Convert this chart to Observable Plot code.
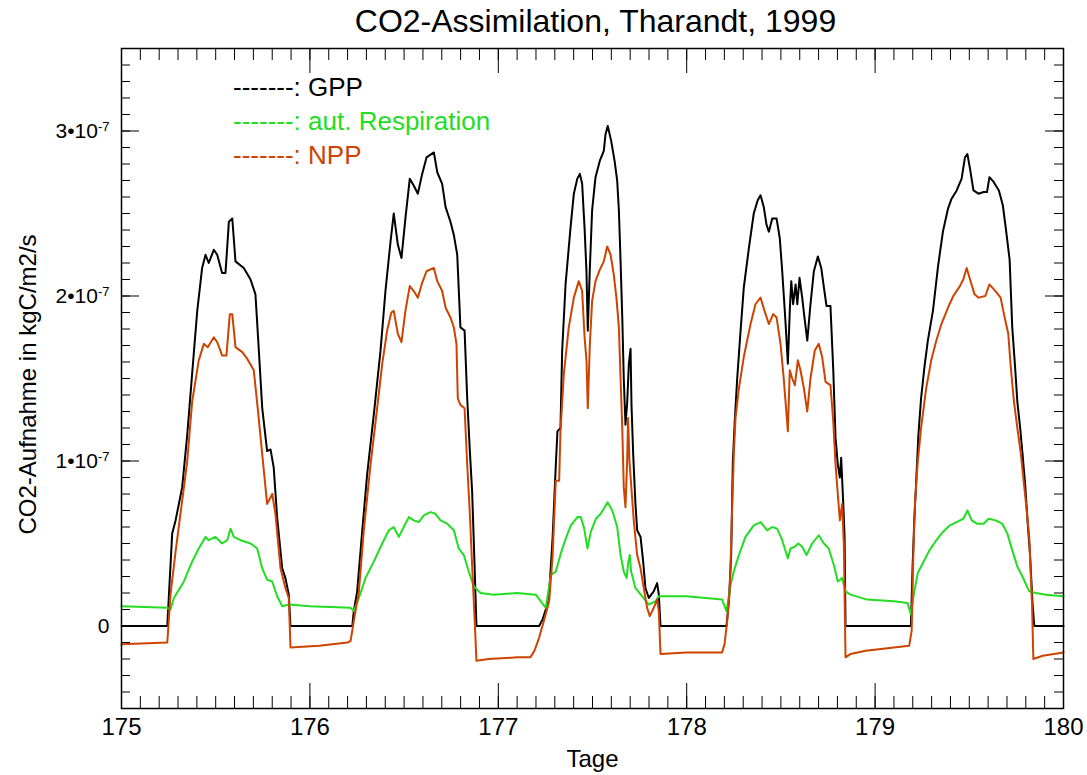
<!DOCTYPE html>
<html>
<head>
<meta charset="utf-8">
<script src="https://cdn.jsdelivr.net/npm/d3@7"></script>
<script src="https://cdn.jsdelivr.net/npm/@observablehq/plot@0.6"></script>
<style>
html, body { margin: 0; padding: 0; background: #fff; }
#chart { position: relative; width: 1087px; height: 775px; font-family: "Liberation Sans", Arial, Helvetica, sans-serif; }
#title { position: absolute; left: 104px; top: 0; width: 983px; height: 42px; line-height: 42px; text-align: center; font-size: 32px; color: #000; }
#plot { position: absolute; left: 0; top: 40px; }
#legend { position: absolute; left: 233px; top: 70px; font-size: 26px; line-height: 34px; white-space: pre; }
</style>
</head>
<body>
<div id="chart">
  <div id="title"></div>
  <div id="plot"></div>
  <div id="legend"></div>
</div>
<script>
// ---- texts ----
const titleText = "CO2-Assimilation, Tharandt, 1999";
const xLabel = "Tage";
const yLabel = "CO2-Aufnahme in kgC/m2/s";
const seriesNames = ["GPP", "aut. Respiration", "NPP"];
const seriesColors = ["#000000", "#22dd22", "#cc4400"];

// ---- ticks ----
const xTicks = [175, 176, 177, 178, 179, 180];
const yTicks = [0, 1e-7, 2e-7, 3e-7];
const yTickLabels = ["0", "1•10^-7", "2•10^-7", "3•10^-7"];

// values below are in units of 1e-7 kgC/m2/s
const unit = 1e-7;

// ---- GPP ----
const gppT = [
  175.000, 175.243, 175.269, 175.287, 175.322, 175.349, 175.375, 175.402, 175.428, 175.446,
  175.463, 175.490, 175.508, 175.534, 175.552, 175.570, 175.588, 175.605, 175.649, 175.685,
  175.711, 175.729, 175.747, 175.773, 175.791, 175.808, 175.826, 175.853, 175.870, 175.888, 175.897,
  176.225, 176.233, 176.251, 176.278, 176.304, 176.339, 176.375, 176.401, 176.428, 176.445,
  176.467, 176.486, 176.507, 176.530, 176.551, 176.573, 176.596, 176.619, 176.658, 176.676,
  176.702, 176.720, 176.746, 176.764, 176.782, 176.799, 176.821, 176.835, 176.849, 176.861,
  176.874, 176.884,
  177.217, 177.235, 177.252, 177.270, 177.288, 177.305, 177.314, 177.330, 177.339, 177.357,
  177.383, 177.401, 177.419, 177.433, 177.445, 177.458, 177.468, 177.475, 177.486, 177.498,
  177.516, 177.539, 177.560, 177.569, 177.581, 177.599, 177.617, 177.631, 177.640, 177.649,
  177.658, 177.666, 177.675, 177.684, 177.693, 177.702, 177.707, 177.716, 177.728, 177.737,
  177.755, 177.769, 177.781, 177.799, 177.825, 177.843, 177.852, 177.861,
  178.211, 178.224, 178.236, 178.245, 178.255, 178.268, 178.286, 178.303, 178.330, 178.356,
  178.377, 178.392, 178.409, 178.424, 178.436, 178.454, 178.477, 178.494, 178.507, 178.524,
  178.537, 178.547, 178.555, 178.565, 178.578, 178.587, 178.599, 178.613, 178.625, 178.640,
  178.657, 178.675, 178.696, 178.714, 178.731, 178.742, 178.763, 178.778, 178.790, 178.802,
  178.813, 178.820, 178.831, 178.838, 178.843,
  179.190, 179.199, 179.208, 179.217, 179.230, 179.244, 179.262, 179.280, 179.307, 179.334,
  179.360, 179.387, 179.406, 179.433, 179.459, 179.477, 179.490, 179.504, 179.522, 179.549,
  179.576, 179.594, 179.607, 179.630, 179.657, 179.678, 179.696, 179.714, 179.728, 179.743,
  179.755, 179.770, 179.782, 179.797, 179.809, 179.822, 179.836, 179.845, 180.000
];
const gppV = [
  0, 0, 0.56, 0.64, 0.84, 1.16, 1.53, 1.91, 2.17, 2.25,
  2.20, 2.28, 2.25, 2.14, 2.14, 2.45, 2.47, 2.21, 2.17, 2.10,
  2.01, 1.67, 1.32, 1.06, 1.07, 0.96, 0.66, 0.35, 0.29, 0.19, 0,
  0, 0.09, 0.21, 0.58, 0.92, 1.28, 1.67, 2.03, 2.33, 2.50,
  2.31, 2.23, 2.47, 2.71, 2.67, 2.62, 2.74, 2.84, 2.87, 2.75,
  2.68, 2.54, 2.45, 2.37, 2.25, 1.81, 1.79, 1.38, 1.06, 0.82,
  0.37, 0,
  0, 0.04, 0.10, 0.20, 0.53, 0.97, 1.18, 1.20, 1.67, 2.07,
  2.41, 2.62, 2.71, 2.74, 2.68, 2.41, 2.15, 1.79, 2.17, 2.52,
  2.72, 2.82, 2.88, 2.98, 3.03, 2.94, 2.82, 2.70, 2.52, 2.21,
  1.87, 1.50, 1.22, 1.35, 1.59, 1.68, 1.34, 1.04, 0.74, 0.58,
  0.54, 0.39, 0.23, 0.17, 0.21, 0.26, 0.19, 0,
  0, 0.15, 0.43, 1.00, 1.24, 1.50, 1.79, 2.05, 2.29, 2.50,
  2.58, 2.61, 2.54, 2.43, 2.39, 2.47, 2.47, 2.35, 2.15, 1.85,
  1.59, 1.91, 2.09, 1.95, 2.07, 1.95, 2.11, 1.99, 1.87, 1.73,
  1.95, 2.15, 2.24, 2.17, 2.03, 1.94, 1.94, 1.55, 1.14, 0.98,
  0.90, 1.02, 0.74, 0.54, 0,
  0, 0.36, 0.64, 0.85, 1.16, 1.38, 1.57, 1.73, 1.91, 2.18,
  2.39, 2.53, 2.59, 2.64, 2.71, 2.84, 2.86, 2.77, 2.64, 2.62,
  2.63, 2.63, 2.72, 2.69, 2.64, 2.55, 2.39, 2.22, 1.81, 1.57,
  1.36, 1.20, 1.05, 0.85, 0.64, 0.44, 0.13, 0, 0
];

// ---- autotrophic respiration ----
const respT = [
  175.000, 175.243, 175.260, 175.278, 175.331, 175.375, 175.410, 175.446, 175.463, 175.499,
  175.534, 175.561, 175.579, 175.596, 175.632, 175.685, 175.720, 175.747, 175.773, 175.800,
  175.826, 175.853, 175.888, 176.000, 176.216, 176.233, 176.260, 176.295, 176.339, 176.384,
  176.419, 176.445, 176.472, 176.498, 176.525, 176.551, 176.578, 176.605, 176.640, 176.667,
  176.693, 176.729, 176.764, 176.790, 176.817, 176.843, 176.870, 176.906, 176.976, 177.100,
  177.199, 177.252, 177.279, 177.305, 177.332, 177.358, 177.385, 177.420, 177.438, 177.456,
  177.473, 177.491, 177.518, 177.544, 177.580, 177.605, 177.631, 177.649, 177.666, 177.681,
  177.690, 177.698, 177.705, 177.728, 177.764, 177.799, 177.834, 177.852, 178.000, 178.188,
  178.211, 178.233, 178.250, 178.277, 178.312, 178.356, 178.392, 178.427, 178.454, 178.480,
  178.507, 178.537, 178.551, 178.574, 178.592, 178.613, 178.636, 178.666, 178.701, 178.728,
  178.754, 178.781, 178.802, 178.825, 178.843, 178.869, 178.958, 179.100, 179.172, 179.190,
  179.208, 179.226, 179.253, 179.289, 179.325, 179.360, 179.397, 179.433, 179.468, 179.490,
  179.513, 179.540, 179.576, 179.603, 179.639, 179.675, 179.702, 179.728, 179.755, 179.782,
  179.818, 179.854, 179.908, 180.000
];
const respV = [
  0.12, 0.11, 0.10, 0.17, 0.27, 0.39, 0.47, 0.54, 0.52, 0.54,
  0.50, 0.52, 0.59, 0.54, 0.52, 0.50, 0.47, 0.35, 0.28, 0.27,
  0.18, 0.12, 0.13, 0.12, 0.11, 0.09, 0.17, 0.29, 0.39, 0.50,
  0.58, 0.60, 0.54, 0.60, 0.66, 0.64, 0.63, 0.67, 0.69, 0.68,
  0.64, 0.62, 0.58, 0.47, 0.43, 0.33, 0.24, 0.20, 0.19, 0.20,
  0.19, 0.11, 0.31, 0.33, 0.44, 0.53, 0.61, 0.66, 0.66, 0.59,
  0.47, 0.57, 0.65, 0.68, 0.75, 0.70, 0.60, 0.43, 0.33, 0.29,
  0.39, 0.43, 0.33, 0.23, 0.18, 0.13, 0.15, 0.18, 0.18, 0.16,
  0.09, 0.25, 0.33, 0.43, 0.54, 0.61, 0.63, 0.58, 0.60, 0.59,
  0.52, 0.41, 0.47, 0.48, 0.50, 0.48, 0.43, 0.50, 0.55, 0.50,
  0.47, 0.37, 0.27, 0.29, 0.21, 0.19, 0.16, 0.15, 0.14, 0.07,
  0.21, 0.32, 0.38, 0.46, 0.52, 0.57, 0.61, 0.63, 0.65, 0.70,
  0.64, 0.62, 0.62, 0.65, 0.64, 0.62, 0.56, 0.46, 0.36, 0.30,
  0.21, 0.20, 0.19, 0.18
];

// ---- NPP ----
const nppT = [
  175.000, 175.243, 175.260, 175.287, 175.322, 175.349, 175.375, 175.410, 175.437, 175.458,
  175.490, 175.508, 175.534, 175.557, 175.575, 175.588, 175.605, 175.641, 175.667, 175.702,
  175.723, 175.747, 175.773, 175.800, 175.817, 175.844, 175.870, 175.888, 175.897, 176.050,
  176.200, 176.216,
  176.233, 176.260, 176.286, 176.322, 176.357, 176.384, 176.410, 176.432, 176.445, 176.467,
  176.486, 176.507, 176.530, 176.551, 176.573, 176.596, 176.619, 176.658, 176.676, 176.702,
  176.720, 176.746, 176.764, 176.778, 176.785, 176.799, 176.821, 176.835, 176.849, 176.861,
  176.874, 176.884, 176.950, 177.100, 177.170,
  177.192, 177.217, 177.244, 177.270, 177.288, 177.305, 177.323, 177.330, 177.348, 177.374,
  177.401, 177.427, 177.445, 177.458, 177.468, 177.475, 177.486, 177.498, 177.516, 177.539,
  177.560, 177.578, 177.596, 177.613, 177.627, 177.640, 177.649, 177.658, 177.666, 177.675,
  177.684, 177.689, 177.696, 177.719, 177.737, 177.755, 177.772, 177.790, 177.804, 177.825,
  177.843, 177.852, 177.861, 178.000, 178.188,
  178.201, 178.215, 178.229, 178.242, 178.250, 178.259, 178.277, 178.303, 178.339, 178.365,
  178.392, 178.413, 178.436, 178.459, 178.477, 178.498, 178.515, 178.537, 178.547, 178.560,
  178.574, 178.590, 178.604, 178.622, 178.640, 178.657, 178.680, 178.701, 178.719, 178.737,
  178.763, 178.778, 178.790, 178.802, 178.813, 178.825, 178.834, 178.843, 178.869, 178.950,
  179.100, 179.181,
  179.194, 179.203, 179.212, 179.226, 179.244, 179.271, 179.298, 179.325, 179.352, 179.387,
  179.415, 179.450, 179.468, 179.486, 179.504, 179.528, 179.549, 179.585, 179.607, 179.639,
  179.666, 179.684, 179.707, 179.720, 179.737, 179.755, 179.773, 179.791, 179.804, 179.818,
  179.833, 179.840, 179.890, 180.000
];
const nppV = [
  -0.11, -0.10, 0.19, 0.45, 0.76, 1.00, 1.36, 1.61, 1.71, 1.69,
  1.75, 1.72, 1.64, 1.64, 1.89, 1.89, 1.69, 1.66, 1.62, 1.55,
  1.32, 1.04, 0.74, 0.80, 0.68, 0.35, 0.23, 0.17, -0.13, -0.12,
  -0.10, -0.09,
  0.03, 0.21, 0.58, 0.98, 1.32, 1.59, 1.79, 1.90, 1.91, 1.77,
  1.72, 1.91, 2.06, 2.03, 1.99, 2.08, 2.15, 2.17, 2.09, 2.03,
  1.93, 1.87, 1.81, 1.71, 1.38, 1.34, 1.32, 0.98, 0.68, 0.37,
  0.05, -0.21, -0.20, -0.19, -0.19,
  -0.15, -0.07, 0.04, 0.15, 0.42, 0.88, 0.88, 1.18, 1.53, 1.81,
  1.99, 2.09, 2.03, 1.75, 1.61, 1.32, 1.71, 1.97, 2.09, 2.16,
  2.21, 2.30, 2.25, 2.13, 1.99, 1.81, 1.50, 1.20, 0.84, 0.72,
  1.00, 1.26, 1.00, 0.64, 0.43, 0.35, 0.23, 0.11, 0.06, 0.11,
  0.16, 0.09, -0.17, -0.16, -0.16,
  -0.11, 0.03, 0.23, 0.74, 1.04, 1.26, 1.44, 1.63, 1.83, 1.95,
  1.99, 1.91, 1.83, 1.89, 1.87, 1.71, 1.50, 1.18, 1.55, 1.50,
  1.46, 1.61, 1.55, 1.44, 1.30, 1.50, 1.67, 1.71, 1.63, 1.48,
  1.46, 1.24, 0.98, 0.80, 0.64, 0.74, 0.50, -0.19, -0.17, -0.15,
  -0.13, -0.12,
  -0.03, 0.44, 0.75, 0.99, 1.20, 1.44, 1.61, 1.73, 1.83, 1.93,
  2.00, 2.06, 2.10, 2.17, 2.10, 2.01, 1.99, 2.00, 2.07, 2.03,
  1.99, 1.89, 1.77, 1.57, 1.36, 1.20, 1.05, 0.85, 0.71, 0.54,
  0.13, -0.20, -0.18, -0.16
];

// ---- build tables ----
const toRows = (T, V, name) => T.map((t, i) => ({series: name, t, v: V[i] * unit}));
const gppRows = toRows(gppT, gppV, seriesNames[0]);
const respRows = toRows(respT, respV, seriesNames[1]);
const nppRows = toRows(nppT, nppV, seriesNames[2]);

// ---- layout ----
const W = 1087, H = 735, mT = 8, mB = 67, mL = 121, mR = 24;
const innerW = W - mL - mR, innerH = H - mT - mB;
const xMinor = d3.ticks(175, 180, 50);
const yMinor = d3.ticks(-0.5e-7, 3.5e-7, 40);
const font = '"Liberation Sans", Arial, Helvetica, sans-serif';

const chart = Plot.plot({
  width: W, height: H,
  marginTop: mT, marginBottom: mB, marginLeft: mL, marginRight: mR,
  style: {fontFamily: font, background: "#fff", color: "#000"},
  x: {domain: [175, 180]},
  y: {domain: [-0.5e-7, 3.5e-7]},
  marks: [
    Plot.line(gppRows, {x: "t", y: "v", stroke: seriesColors[0], strokeWidth: 2}),
    Plot.line(respRows, {x: "t", y: "v", stroke: seriesColors[1], strokeWidth: 2}),
    Plot.line(nppRows, {x: "t", y: "v", stroke: seriesColors[2], strokeWidth: 2}),
    // inward ticks on all four sides
    Plot.tickX(xMinor, {x: d => d, insetBottom: innerH - 12, stroke: "#000"}),
    Plot.tickX(xMinor, {x: d => d, insetTop: innerH - 12, stroke: "#000"}),
    Plot.tickX(xTicks, {x: d => d, insetBottom: innerH - 25, stroke: "#000"}),
    Plot.tickX(xTicks, {x: d => d, insetTop: innerH - 25, stroke: "#000"}),
    Plot.tickY(yMinor, {y: d => d, insetRight: innerW - 9, stroke: "#000"}),
    Plot.tickY(yMinor, {y: d => d, insetLeft: innerW - 9, stroke: "#000"}),
    Plot.tickY(yTicks, {y: d => d, insetRight: innerW - 18, stroke: "#000"}),
    Plot.tickY(yTicks, {y: d => d, insetLeft: innerW - 18, stroke: "#000"}),
    Plot.frame({stroke: "#000", strokeWidth: 1.5}),
    Plot.axisX(xTicks, {tickSize: 0, tickPadding: 9, fontSize: 24, label: null, tickFormat: d => String(d)}),
    Plot.axisY(yTicks, {tickSize: 0, tickPadding: 12, fontSize: 21, label: null,
      tickFormat: d => yTickLabels[yTicks.indexOf(d)]}),
    Plot.text([xLabel], {frameAnchor: "bottom", text: d => d, lineAnchor: "middle", textAnchor: "middle",
      dy: 51, fontSize: 24, fill: "#000"}),
    Plot.text([yLabel], {frameAnchor: "left", text: d => d, rotate: -90, textAnchor: "middle", lineAnchor: "middle",
      dx: -93, dy: 6, fontSize: 24, fill: "#000"})
  ]
});
document.getElementById("plot").append(chart);

// superscript exponents in y tick labels
const ns = "http://www.w3.org/2000/svg";
chart.querySelectorAll("text").forEach(t => {
  const s = t.textContent;
  if (s.includes("^")) {
    const [m, e] = s.split("^");
    t.textContent = "";
    const a = document.createElementNS(ns, "tspan");
    a.textContent = m;
    const b = document.createElementNS(ns, "tspan");
    b.setAttribute("dy", "-0.55em");
    b.setAttribute("font-size", "0.62em");
    b.textContent = e;
    t.append(a, b);
  }
});

// title and legend
document.getElementById("title").textContent = titleText;
const legend = d3.select("#legend");
seriesNames.forEach((name, i) => {
  legend.append("div").style("color", seriesColors[i]).text("-------: " + name);
});
</script>
</body>
</html>
